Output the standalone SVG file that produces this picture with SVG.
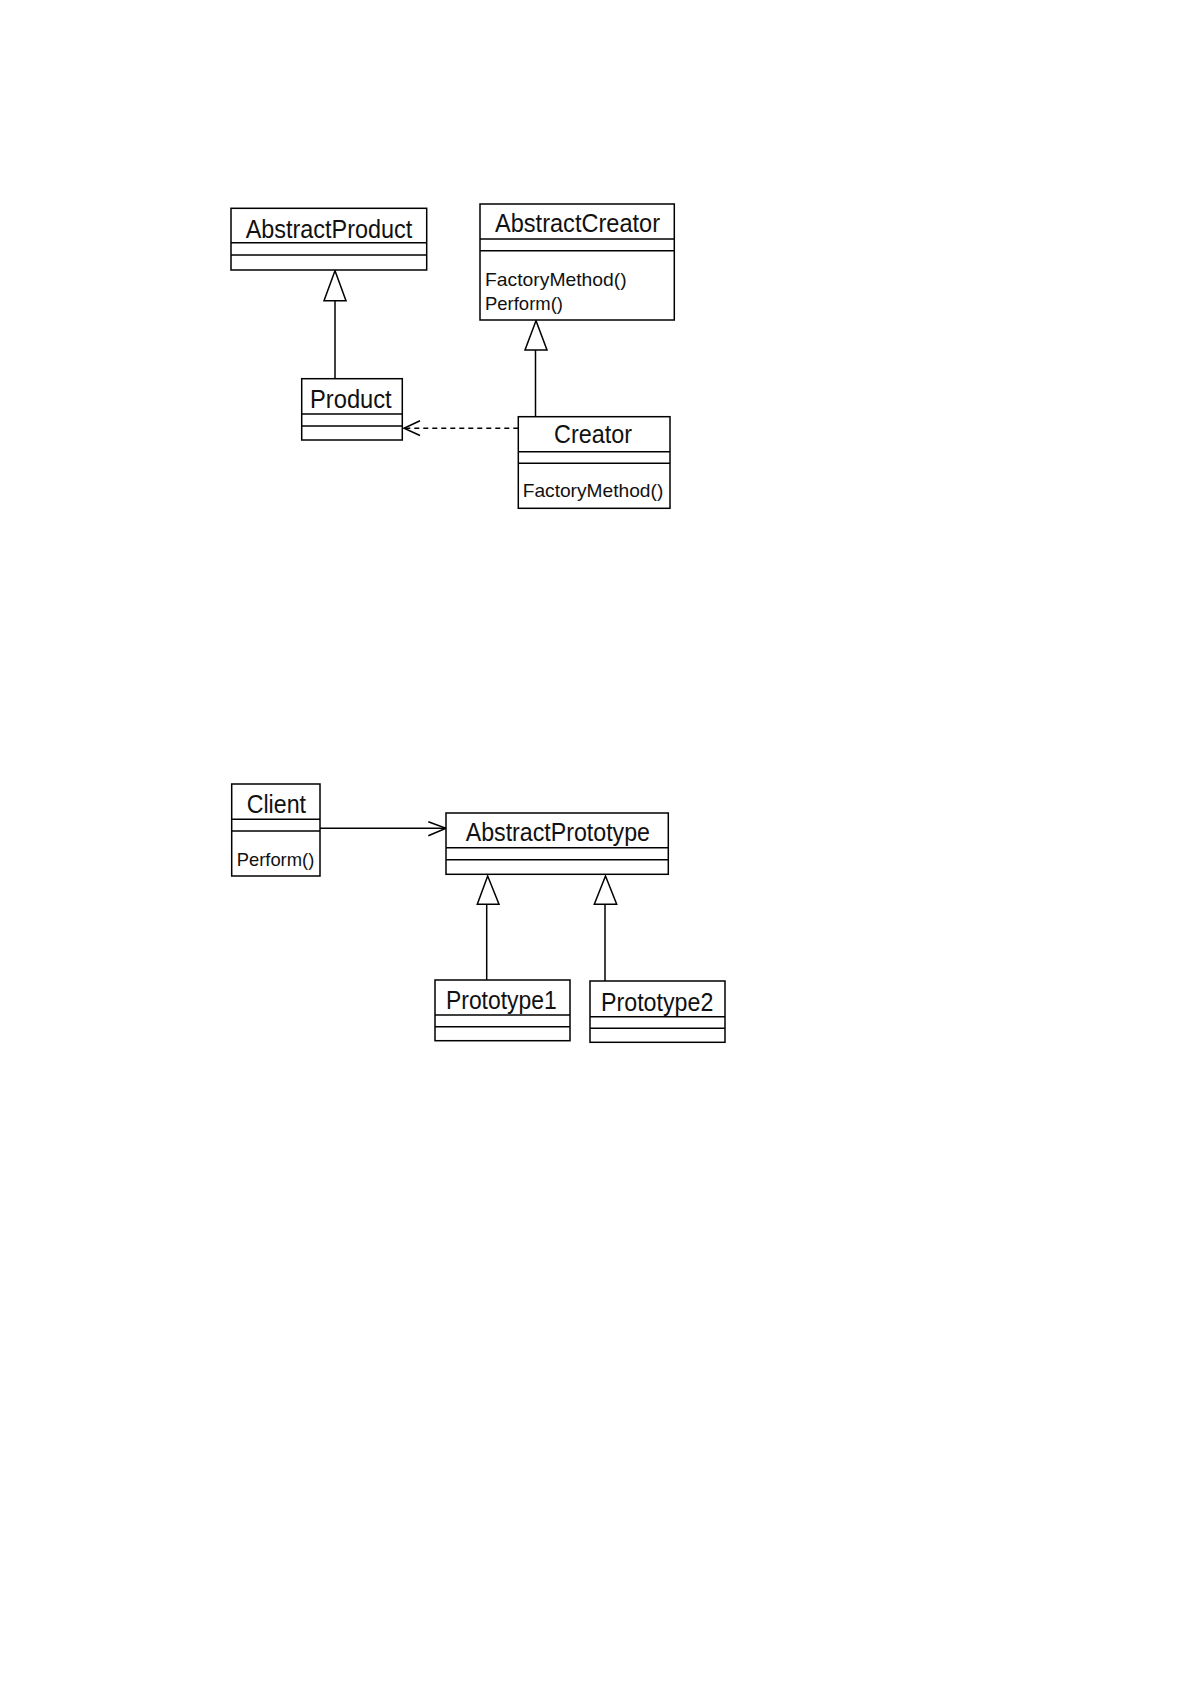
<svg xmlns="http://www.w3.org/2000/svg" width="1191" height="1685" viewBox="0 0 1191 1685">
<style>
.box{fill:#fff;stroke:#000;stroke-width:1.5}
.sep{stroke:#000;stroke-width:1.5}
.name{font-family:"Liberation Sans",Arial,sans-serif;font-size:25px;fill:#111}
.meth{font-family:"Liberation Sans",Arial,sans-serif;font-size:18.5px;fill:#111}
.edge{fill:none;stroke:#000;stroke-width:1.5}
.dash{stroke-dasharray:5,4}
.tri{fill:#fff;stroke:#000;stroke-width:1.5}
</style>
<rect width="1191" height="1685" fill="#fff"/>
<g id="connectors">
  <line class="edge" x1="335" y1="300.7" x2="335" y2="378.7"/>
  <polygon class="tri" points="335,270.7 324,300.7 346,300.7"/>
  <line class="edge" x1="535.5" y1="350" x2="535.5" y2="416.7"/>
  <polygon class="tri" points="536,320.7 525,350 547,350"/>
  <line class="edge dash" x1="518.3" y1="428.3" x2="404" y2="428.3"/>
  <polyline class="edge" points="420,420.7 404,428.3 420,435.5"/>
  <line class="edge" x1="320" y1="828.3" x2="446" y2="828.3"/>
  <polyline class="edge" points="428.3,821.7 446,828.3 428.3,835.7"/>
  <line class="edge" x1="486.7" y1="904.3" x2="486.7" y2="980"/>
  <polygon class="tri" points="487.7,876 477.3,904.3 499,904.3"/>
  <line class="edge" x1="605" y1="904.3" x2="605" y2="981"/>
  <polygon class="tri" points="605.5,876 594.3,904.3 616.7,904.3"/>
</g>
<g id="AbstractProduct">
  <rect class="box" x="231" y="208.3" width="195.7" height="61.7"/>
  <line class="sep" x1="231" y1="242.7" x2="426.7" y2="242.7"/>
  <line class="sep" x1="231" y1="255" x2="426.7" y2="255"/>
  <text class="name" x="245.7" y="238.3" textLength="166.6" lengthAdjust="spacingAndGlyphs">AbstractProduct</text>
</g>
<g id="AbstractCreator">
  <rect class="box" x="480" y="204" width="194.3" height="116"/>
  <line class="sep" x1="480" y1="239" x2="674.3" y2="239"/>
  <line class="sep" x1="480" y1="250.7" x2="674.3" y2="250.7"/>
  <text class="name" x="495" y="231.7" textLength="165" lengthAdjust="spacingAndGlyphs">AbstractCreator</text>
  <text class="meth" x="485" y="286" textLength="141.7" lengthAdjust="spacingAndGlyphs">FactoryMethod()</text>
  <text class="meth" x="485" y="310" textLength="78" lengthAdjust="spacingAndGlyphs">Perform()</text>
</g>
<g id="Product">
  <rect class="box" x="301.7" y="378.7" width="100.6" height="61.3"/>
  <line class="sep" x1="301.7" y1="414" x2="402.3" y2="414"/>
  <line class="sep" x1="301.7" y1="426" x2="402.3" y2="426"/>
  <text class="name" x="310" y="408.3" textLength="81.7" lengthAdjust="spacingAndGlyphs">Product</text>
</g>
<g id="Creator">
  <rect class="box" x="518.3" y="416.7" width="151.7" height="91.6"/>
  <line class="sep" x1="518.3" y1="451.7" x2="670" y2="451.7"/>
  <line class="sep" x1="518.3" y1="463.3" x2="670" y2="463.3"/>
  <text class="name" x="554" y="443.3" textLength="78" lengthAdjust="spacingAndGlyphs">Creator</text>
  <text class="meth" x="522.7" y="497.3" textLength="140.6" lengthAdjust="spacingAndGlyphs">FactoryMethod()</text>
</g>
<g id="Client">
  <rect class="box" x="231.7" y="784" width="88.3" height="92"/>
  <line class="sep" x1="231.7" y1="819.3" x2="320" y2="819.3"/>
  <line class="sep" x1="231.7" y1="831" x2="320" y2="831"/>
  <text class="name" x="246.7" y="813.3" textLength="59.3" lengthAdjust="spacingAndGlyphs">Client</text>
  <text class="meth" x="236.7" y="865.7" textLength="77.6" lengthAdjust="spacingAndGlyphs">Perform()</text>
</g>
<g id="AbstractPrototype">
  <rect class="box" x="446" y="813" width="222.3" height="61.3"/>
  <line class="sep" x1="446" y1="847.7" x2="668.3" y2="847.7"/>
  <line class="sep" x1="446" y1="859.7" x2="668.3" y2="859.7"/>
  <text class="name" x="465.7" y="840.7" textLength="184.3" lengthAdjust="spacingAndGlyphs">AbstractPrototype</text>
</g>
<g id="Prototype1">
  <rect class="box" x="435" y="980" width="135" height="60.7"/>
  <line class="sep" x1="435" y1="1015" x2="570" y2="1015"/>
  <line class="sep" x1="435" y1="1026.7" x2="570" y2="1026.7"/>
  <text class="name" x="446" y="1009.3" textLength="110.7" lengthAdjust="spacingAndGlyphs">Prototype1</text>
</g>
<g id="Prototype2">
  <rect class="box" x="590" y="981" width="135" height="61.3"/>
  <line class="sep" x1="590" y1="1016.7" x2="725" y2="1016.7"/>
  <line class="sep" x1="590" y1="1028.3" x2="725" y2="1028.3"/>
  <text class="name" x="601" y="1010.7" textLength="112.3" lengthAdjust="spacingAndGlyphs">Prototype2</text>
</g>
</svg>
